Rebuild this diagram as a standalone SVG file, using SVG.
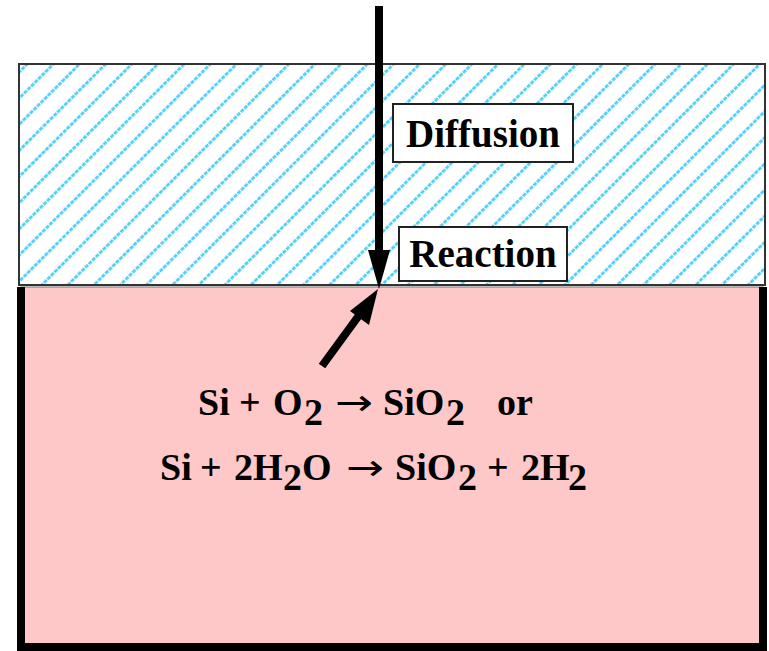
<svg xmlns="http://www.w3.org/2000/svg" width="769" height="651" viewBox="0 0 769 651">
<style>
.lbl{font-family:"Liberation Serif","Times New Roman",serif;font-weight:bold;font-size:39px;fill:#000}
.eq{font-family:"Liberation Serif","Times New Roman",serif;font-weight:bold;font-size:38px;fill:#000}
.arr{font-family:"DejaVu Sans",sans-serif;font-size:36px;fill:#000}
.box{fill:#fff;stroke:#222;stroke-width:2}
.shaft{stroke:#000;stroke-width:8;fill:none}
</style>
<defs>
<pattern id="hatch" width="18.5" height="20" patternUnits="userSpaceOnUse" patternTransform="rotate(45)">
<line x1="9" y1="0" x2="9" y2="20" stroke="#4fcdf7" stroke-width="2.8" stroke-dasharray="4 1"/>
</pattern>
</defs>
<rect width="769" height="651" fill="#fff"/>
<g id="oxide">
<rect x="19" y="64" width="746" height="221" fill="url(#hatch)" stroke="#333" stroke-width="2"/>
</g>
<g id="silicon">
<rect x="21" y="287" width="742" height="360" fill="#fec8c8" stroke="#777" stroke-width="1"/>
<path d="M21 287 V647 H763 V287" fill="none" stroke="#000" stroke-width="8"/>
</g>
<g id="connectors">
<line class="shaft" x1="379" y1="6" x2="379" y2="255"/>
<polygon points="379,289 368,250 390,250" fill="#000"/>
<line class="shaft" x1="322" y1="366" x2="360" y2="314"/>
<polygon points="378,289 369,325 350,311" fill="#000"/>
</g>
<g id="diffusion">
<rect class="box" x="393" y="104" width="180" height="58"/>
<text class="lbl" x="483" y="147" text-anchor="middle">Diffusion</text>
</g>
<g id="reaction">
<rect class="box" x="399" y="227" width="168" height="54"/>
<text class="lbl" x="483" y="267" text-anchor="middle">Reaction</text>
</g>
<g id="equations">
<text class="eq"><tspan x="198" y="415">Si</tspan><tspan x="239" y="415">+</tspan><tspan x="273" y="415">O</tspan><tspan x="304" y="425">2</tspan><tspan x="383" y="415">SiO</tspan><tspan x="446" y="425">2</tspan><tspan x="497" y="415">or</tspan></text>
<text class="arr" x="335" y="415" textLength="38" lengthAdjust="spacingAndGlyphs">→</text>
<text class="eq"><tspan x="160" y="480">Si</tspan><tspan x="200" y="480">+</tspan><tspan x="234" y="480">2H</tspan><tspan x="283" y="490">2</tspan><tspan x="302" y="480">O</tspan><tspan x="395" y="480">SiO</tspan><tspan x="458" y="490">2</tspan><tspan x="487" y="480">+</tspan><tspan x="521" y="480">2H</tspan><tspan x="568" y="490">2</tspan></text>
<text class="arr" x="346" y="480" textLength="38" lengthAdjust="spacingAndGlyphs">→</text>
</g>
</svg>
